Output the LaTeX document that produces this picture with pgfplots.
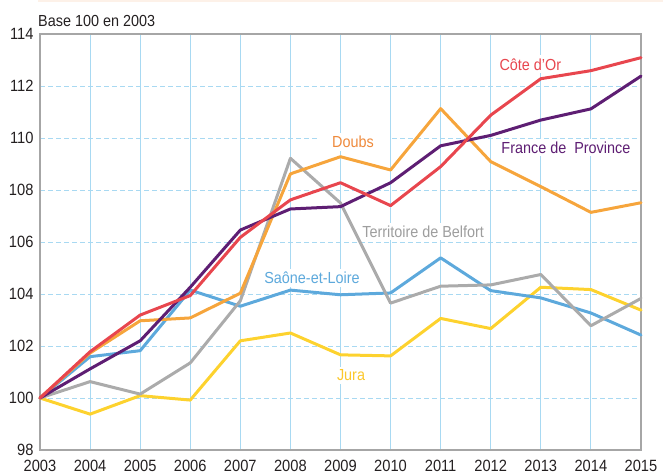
\documentclass[border=0pt]{standalone}
\usepackage{fontspec}
\setmainfont{Liberation Sans}[FakeStretch=0.9]
\usepackage{pgfplots}
\pgfplotsset{compat=1.18}
\usepackage{pgfplotstable}

\definecolor{cRed}{HTML}{E8464E}
\definecolor{cPurple}{HTML}{5E1E73}
\definecolor{cOrange}{HTML}{F6A53C}
\definecolor{cOrangeTxt}{HTML}{EF8A3C}
\definecolor{cGrey}{HTML}{ABABAB}
\definecolor{cGreyTxt}{HTML}{9E9E9E}
\definecolor{cBlue}{HTML}{5DA9DC}
\definecolor{cYellow}{HTML}{FDD22E}
\definecolor{cYellowTxt}{HTML}{FCC82C}
\definecolor{cGrid}{HTML}{A8D9F2}
\definecolor{cBorder}{HTML}{A6A6A6}
\definecolor{cText}{HTML}{231F20}
\definecolor{cBand}{HTML}{FDF1E8}

\tikzset{lbl/.style={fill=white, anchor=base, inner ysep=3pt, font=\fontsize{16}{19}\selectfont}}

\pgfplotstableread{
year cote france doubs belfort saone jura
2003 100.00 100.00 100.00 100.00 100.00 100.00
2004 101.78 101.12 101.73 100.63 101.59 99.38
2005 103.19 102.20 102.97 100.15 101.82 100.09
2006 103.94 104.26 103.08 101.35 104.15 99.92
2007 106.18 106.46 104.03 103.74 103.53 102.20
2008 107.62 107.27 108.62 109.22 104.15 102.50
2009 108.28 107.36 109.28 107.50 103.97 101.66
2010 107.40 108.28 108.77 103.65 104.04 101.62
2011 108.90 109.70 111.13 104.30 105.39 103.06
2012 110.88 110.10 109.09 104.35 104.13 102.67
2013 112.28 110.69 108.13 104.75 103.85 104.26
2014 112.59 111.12 107.14 102.78 103.27 104.17
2015 113.09 112.38 107.51 103.83 102.42 103.38
}\datatable

\begin{document}
\fontsize{16}{19}\selectfont
\begin{tikzpicture}
\begin{axis}[
  name=ax,
  scale only axis,
  width=601pt, height=416pt,
  xmin=2003, xmax=2015, ymin=98, ymax=114,
  xtick={2003,2004,...,2015},
  ytick={98,100,...,114},
  /pgf/number format/1000 sep={},
  /pgf/number format/assume math mode=true,
  tick label style={font=\fontsize{16.3}{19}\selectfont, text=cText},
  xticklabel style={yshift=-5pt},
  yticklabel style={xshift=-1pt},
  major tick length=0pt,
  axis line style={draw=cBorder, line width=1.6pt},
  xmajorgrids, ymajorgrids,
  x grid style={draw=cGrid, line width=0.9pt},
  y grid style={draw=cGrid, line width=0.9pt, dash pattern=on 5pt off 3pt},
  clip=false,
  every axis plot/.append style={line width=3pt, line join=round, line cap=round},
]
% labels (white boxes hide the grid)
\node[lbl, text=cRed, inner xsep=6pt] at (axis cs:2012.79,112.615) {Côte d'Or};
\node[lbl, text=cPurple, inner xsep=7pt] at (axis cs:2013.50,109.41) {France de\ \ Province};
\node[lbl, text=cOrangeTxt, inner xsep=15pt] at (axis cs:2009.25,109.63) {Doubs};
\node[lbl, text=cGreyTxt, inner xsep=4pt] at (axis cs:2010.65,106.18) {Territoire de Belfort};
\node[lbl, text=cBlue, inner xsep=4pt] at (axis cs:2008.43,104.385) {Saône-et-Loire};
\node[lbl, text=cYellowTxt, inner xsep=4pt] at (axis cs:2009.21,100.67) {Jura};

\addplot[cYellow] table[x=year, y=jura] {\datatable};
\addplot[cBlue] table[x=year, y=saone] {\datatable};
\addplot[cGrey] table[x=year, y=belfort] {\datatable};
\addplot[cOrange] table[x=year, y=doubs] {\datatable};
\addplot[cPurple] table[x=year, y=france] {\datatable};
\addplot[cRed] table[x=year, y=cote] {\datatable};

\node[anchor=base west, inner sep=0pt, text=cText, font=\fontsize{16}{19}\selectfont]
  at ([xshift=-2pt,yshift=7.3pt]rel axis cs:0,1) {Base 100 en 2003};
\end{axis}
\fill[cBand] ([xshift=-2pt,yshift=31.5pt]ax.north west) rectangle ([xshift=22pt,yshift=34pt]ax.north east);
\pgfresetboundingbox
\path[use as bounding box] ([xshift=-40pt,yshift=-24pt]ax.south west) rectangle ([xshift=22pt,yshift=34pt]ax.north east);
\end{tikzpicture}
\end{document}
